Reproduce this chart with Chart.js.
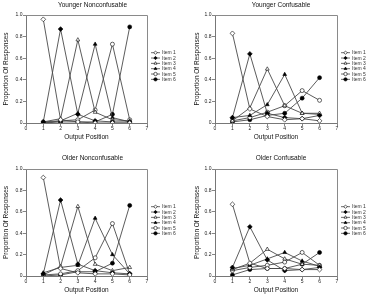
<!DOCTYPE html>
<html><head><meta charset="utf-8">
<script src="https://cdn.jsdelivr.net/npm/chart.js"></script>
<style>
html,body{margin:0;padding:0;background:#fff;}
#wrap{position:relative;width:370px;height:295px;overflow:hidden;}
canvas{position:absolute;}
</style></head><body>
<div id="wrap">
<canvas id="c1" width="185" height="147" style="left:0;top:0"></canvas>
<canvas id="c2" width="185" height="147" style="left:185px;top:0"></canvas>
<canvas id="c3" width="185" height="148" style="left:0;top:147px"></canvas>
<canvas id="c4" width="185" height="148" style="left:185px;top:147px"></canvas>
</div>
<script>
// ---- data ----
const positions = [1, 2, 3, 4, 5, 6];
const itemNames = ['Item 1', 'Item 2', 'Item 3', 'Item 4', 'Item 5', 'Item 6'];
const xTickValues = [0, 1, 2, 3, 4, 5, 6, 7];
const yTickValues = [0, 0.2, 0.4, 0.6, 0.8, 1];
const panelTitles = ['Younger Nonconfusable', 'Younger Confusable', 'Older Nonconfusable', 'Older Confusable'];

const youngerNonconfusable = [
  [0.96, 0.03, 0.01, 0.00, 0.00, 0.00],
  [0.01, 0.87, 0.08, 0.02, 0.01, 0.01],
  [0.01, 0.04, 0.77, 0.10, 0.03, 0.02],
  [0.00, 0.02, 0.09, 0.73, 0.05, 0.01],
  [0.01, 0.02, 0.03, 0.12, 0.73, 0.03],
  [0.00, 0.01, 0.01, 0.01, 0.08, 0.89]
];
const youngerConfusable = [
  [0.83, 0.13, 0.06, 0.03, 0.04, 0.02],
  [0.05, 0.64, 0.09, 0.05, 0.04, 0.07],
  [0.02, 0.14, 0.50, 0.16, 0.09, 0.09],
  [0.05, 0.07, 0.17, 0.45, 0.09, 0.08],
  [0.02, 0.05, 0.10, 0.16, 0.30, 0.21],
  [0.01, 0.03, 0.07, 0.09, 0.23, 0.42]
];
const olderNonconfusable = [
  [0.92, 0.07, 0.03, 0.02, 0.02, 0.01],
  [0.02, 0.71, 0.11, 0.05, 0.03, 0.02],
  [0.01, 0.09, 0.65, 0.11, 0.05, 0.08],
  [0.03, 0.08, 0.10, 0.54, 0.20, 0.02],
  [0.01, 0.02, 0.05, 0.17, 0.49, 0.02],
  [0.00, 0.01, 0.04, 0.04, 0.12, 0.66]
];
const olderConfusable = [
  [0.67, 0.12, 0.07, 0.07, 0.06, 0.06],
  [0.08, 0.46, 0.15, 0.05, 0.06, 0.08],
  [0.06, 0.12, 0.25, 0.16, 0.11, 0.10],
  [0.07, 0.10, 0.16, 0.22, 0.14, 0.09],
  [0.05, 0.08, 0.10, 0.13, 0.22, 0.10],
  [0.01, 0.06, 0.07, 0.07, 0.11, 0.22]
];

// ---- styles ----
const markerStyles = ['rectRot', 'rectRot', 'triangle', 'triangle', 'circle', 'circle'];
const markerFilled = [false, true, false, true, false, true];
const markerSizes = [2.4, 2.4, 2.2, 2.2, 2.0, 2.0];
const FONT = 'Liberation Sans, Arial, sans-serif';

const panels = [
  {id: 'c1', data: youngerNonconfusable, padL: 0, yw: 26, rw: 38, xh: 24, tTop: 1.1, tBot: 6.1, xtb: 6.1, ytp: 2},
  {id: 'c2', data: youngerConfusable, padL: 7, yw: 23, rw: 33, xh: 24, tTop: 1.1, tBot: 6.1, xtb: 6.1, ytp: 1},
  {id: 'c3', data: olderNonconfusable, padL: 0, yw: 26, rw: 38, xh: 19, tTop: 7.1, tBot: 7.1, xtb: 1.1, ytp: 2},
  {id: 'c4', data: olderConfusable, padL: 7, yw: 23, rw: 33, xh: 19, tTop: 7.1, tBot: 7.1, xtb: 1.1, ytp: 1}
];

const framePlugin = {
  id: 'frame',
  afterDatasetsDraw(chart) {
    const {ctx, chartArea: a} = chart;
    ctx.save();
    ctx.strokeStyle = '#8a8a8a';
    ctx.lineWidth = 1;
    ctx.beginPath();
    ctx.moveTo(a.left, Math.round(a.top) + 0.5);
    ctx.lineTo(Math.round(a.right) + 0.5, Math.round(a.top) + 0.5);
    ctx.lineTo(Math.round(a.right) + 0.5, a.bottom);
    ctx.stroke();
    ctx.restore();
  }
};

const legendPlugin = {
  id: 'miniLegend',
  afterDraw(chart) {
    const {ctx, chartArea: a} = chart;
    const helpers = Chart.helpers;
    ctx.save();
    chart.data.datasets.forEach((ds, i) => {
      const y = a.top + 37.7 + i * 5.33;
      const xc = a.right + 8.5;
      ctx.strokeStyle = '#444';
      ctx.lineWidth = 0.8;
      ctx.beginPath();
      ctx.moveTo(xc - 4.5, y);
      ctx.lineTo(xc + 4.5, y);
      ctx.stroke();
      ctx.fillStyle = ds.pointBackgroundColor;
      ctx.strokeStyle = '#000';
      ctx.lineWidth = 0.6;
      if (helpers && helpers.drawPoint) {
        helpers.drawPoint(ctx, {pointStyle: ds.pointStyle, radius: 1.7, rotation: 0, borderWidth: 0.6}, xc, y);
      }
      ctx.fillStyle = '#333';
      ctx.font = '5px ' + FONT;
      ctx.textBaseline = 'middle';
      ctx.textAlign = 'left';
      ctx.fillText(ds.label, xc + 6.5, y + 0.3);
    });
    ctx.restore();
  }
};

panels.forEach((p, pi) => {
  const datasets = p.data.map((vals, i) => ({
    label: itemNames[i],
    data: positions.map((x, j) => ({x: x, y: vals[j]})),
    borderColor: '#4a4a4a',
    borderWidth: 0.9,
    pointStyle: markerStyles[i],
    pointRadius: markerSizes[i],
    pointBackgroundColor: markerFilled[i] ? '#000' : '#fff',
    pointBorderColor: '#000',
    pointBorderWidth: 0.6,
    tension: 0,
    fill: false
  }));
  new Chart(document.getElementById(p.id), {
    type: 'line',
    data: {datasets},
    plugins: [framePlugin, legendPlugin],
    options: {
      responsive: false,
      animation: false,
      devicePixelRatio: 1,
      events: [],
      layout: {padding: {left: p.padL, right: 0, top: 0, bottom: 0}},
      plugins: {
        legend: {display: false},
        tooltip: {enabled: false},
        title: {
          display: true,
          text: panelTitles[pi],
          color: '#111',
          font: {family: FONT, size: 6.5, weight: 'normal', lineHeight: 1.2},
          padding: {top: p.tTop, bottom: p.tBot}
        }
      },
      scales: {
        x: {
          type: 'linear', min: 0, max: 7,
          afterBuildTicks: s => { s.ticks = xTickValues.map(v => ({value: v})); },
          afterFit: s => { s.height = p.xh; },
          grid: {drawOnChartArea: false, drawTicks: true, tickLength: 3, color: '#666', lineWidth: 0.8},
          border: {display: true, color: '#777', width: 1},
          ticks: {font: {family: FONT, size: 5}, color: '#222', padding: 0, maxRotation: 0, autoSkip: false},
          title: {display: true, text: 'Output Position', color: '#111',
            font: {family: FONT, size: 6.5, lineHeight: 1.2}, padding: {top: 0, bottom: p.xtb}}
        },
        y: {
          type: 'linear', min: 0, max: 1, position: 'left',
          afterBuildTicks: s => { s.ticks = yTickValues.map(v => ({value: v})); },
          afterFit: s => { s.width = p.yw; },
          grid: {drawOnChartArea: false, drawTicks: true, tickLength: 3, color: '#666', lineWidth: 0.8},
          border: {display: true, color: '#777', width: 1},
          ticks: {font: {family: FONT, size: 5}, color: '#222', padding: 0.5, autoSkip: false},
          title: {display: true, text: 'Proportion Of Responses', color: '#111',
            font: {family: FONT, size: 6.5, lineHeight: 1.2}, padding: {top: p.ytp, bottom: 0}}
        },
        yR: {
          axis: 'y', type: 'linear', position: 'right', display: true,
          afterFit: s => { s.width = p.rw; },
          grid: {display: false},
          ticks: {display: false},
          border: {display: false}
        }
      }
    }
  });
});
</script>
</body></html>
